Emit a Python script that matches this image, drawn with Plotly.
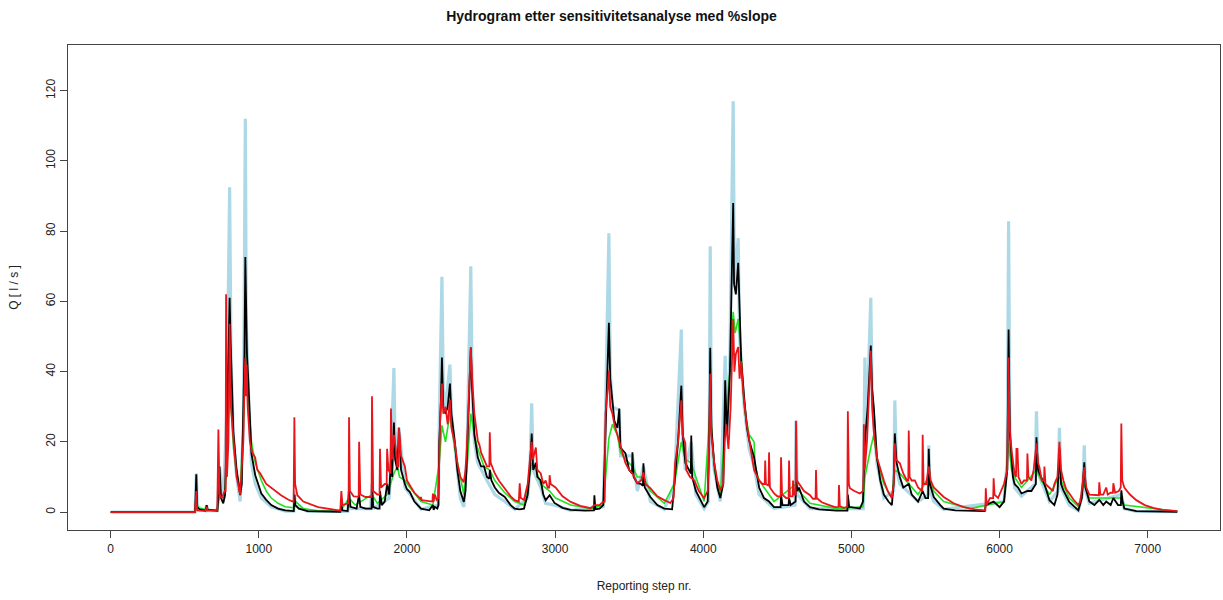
import plotly.graph_objects as go

# Hydrograph points as (reporting step, Q [l/s]) for each simulation run

run_lightblue = [
    (0, 0), (570, 0), (578, 11), (585, 1.5), (640, 0.4), (648, 2), (655, 0.5), (720, 0.4),
    (735, 13), (760, 3), (785, 30), (803, 92.5), (812, 45), (828, 22), (848, 11), (874, 3),
    (896, 25), (909, 112), (915, 55), (929, 35), (950, 14), (976, 8), (1017, 4), (1084, 1.5),
    (1178, 0.3), (1236, 0.3), (1241, 6), (1246, 2), (1330, 0.2), (1600, 0.2), (1609, 6),
    (1618, 1), (1755, 1), (1764, 8), (1772, 1), (1880, 4), (1892, 15), (1912, 41), (1920, 18),
    (1946, 24), (1986, 7), (2020, 5), (2095, 0.8), (2212, 2), (2218, 25), (2236, 67),
    (2245, 35), (2260, 30), (2290, 42), (2300, 28), (2323, 18), (2360, 4), (2384, 1.5),
    (2404, 15), (2431, 70), (2440, 35), (2455, 20), (2478, 14), (2540, 9), (2593, 5),
    (2660, 3), (2727, 0.8), (2815, 4), (2830, 12), (2842, 31), (2852, 12), (2903, 7),
    (2936, 2.5), (2996, 2), (3105, 0.5), (3325, 1.5), (3340, 28), (3363, 79.4), (3372, 40),
    (3387, 30), (3433, 29), (3441, 16), (3522, 16), (3555, 6), (3596, 13), (3643, 3),
    (3737, 0.8), (3805, 8), (3852, 52), (3862, 20), (3879, 12), (3919, 20), (3950, 5),
    (4006, 1), (4035, 3), (4040, 20), (4047, 75.7), (4055, 20), (4074, 12), (4115, 3),
    (4148, 44.5), (4160, 22), (4180, 45), (4202, 117), (4210, 65), (4236, 78), (4245, 50),
    (4276, 30), (4310, 18), (4343, 13), (4377, 5), (4478, 1), (4620, 2), (4626, 26),
    (4635, 5), (4721, 1), (5080, 1), (5091, 44), (5100, 20), (5131, 61), (5140, 32),
    (5172, 14), (5219, 4), (5285, 6), (5293, 31.8), (5305, 12), (5327, 8), (5450, 3),
    (5518, 5), (5522, 19), (5530, 6), (5556, 3), (5623, 0.8), (6030, 3), (6052, 15),
    (6061, 82.8), (6070, 20), (6101, 7), (6148, 4.5), (6240, 8), (6249, 28.7), (6260, 11),
    (6337, 3), (6395, 6), (6404, 24), (6415, 7), (6471, 2), (6532, 0.4), (6560, 5),
    (6572, 19), (6580, 6), (6606, 2.5), (6822, 5), (6842, 1), (6923, 0.2), (7200, 0.1),
]

run_green = [
    (0, 0), (570, 0), (578, 5), (590, 1), (720, 0.5), (735, 5), (770, 4), (790, 20),
    (805, 35), (812, 30), (830, 18), (850, 11), (874, 6), (896, 25), (909, 53), (915, 40),
    (930, 30), (950, 20), (976, 14), (1017, 9), (1050, 6), (1084, 4), (1130, 2.5),
    (1178, 1.5), (1240, 1.2), (1250, 3), (1300, 1), (1400, 0.4), (1550, 0.2), (1609, 4),
    (1650, 2), (1764, 5), (1800, 2.5), (1866, 5), (1912, 11), (1935, 13), (1950, 10),
    (1986, 9), (2020, 7), (2095, 3), (2175, 2), (2218, 14), (2236, 24.7), (2260, 20),
    (2290, 28), (2323, 18), (2360, 10), (2384, 5), (2404, 12), (2431, 28), (2455, 22),
    (2478, 18), (2520, 13), (2559, 12), (2593, 9), (2660, 5.5), (2727, 3), (2790, 2),
    (2842, 14), (2870, 12), (2903, 8), (2963, 6), (3003, 4), (3105, 2), (3240, 1),
    (3325, 2), (3363, 21), (3387, 25), (3420, 22), (3441, 17), (3475, 15), (3522, 13),
    (3555, 10), (3596, 10), (3643, 6), (3737, 2.5), (3805, 8), (3852, 20), (3879, 15),
    (3919, 14), (3950, 10), (4006, 3), (4047, 30), (4074, 12), (4115, 5), (4148, 25),
    (4180, 40), (4202, 57), (4215, 51), (4236, 55), (4256, 45), (4276, 30), (4310, 22),
    (4343, 20), (4350, 13), (4377, 9), (4444, 5), (4478, 3), (4626, 8), (4646, 6),
    (4721, 2.5), (4900, 1), (5078, 1.5), (5091, 10), (5131, 18.4), (5151, 22), (5172, 15),
    (5219, 8), (5273, 4), (5293, 12), (5327, 11), (5387, 8), (5450, 5), (5522, 10),
    (5556, 6), (5623, 3), (5800, 1), (6030, 3), (6061, 19.6), (6081, 12), (6101, 10),
    (6148, 7), (6249, 12), (6269, 10), (6337, 5), (6404, 10), (6471, 4), (6532, 1.5),
    (6572, 8), (6606, 4), (6822, 4), (6842, 2), (7200, 0.2),
]

run_black = [
    (0, 0), (570, 0), (578, 10.8), (584, 1.5), (600, 0.8), (640, 0.4), (648, 2), (655, 0.6),
    (720, 0.4), (727, 4), (735, 13), (745, 4), (760, 2.5), (772, 5), (785, 25), (795, 45),
    (803, 61), (810, 48), (828, 23), (848, 12.8), (874, 4.8), (885, 8), (896, 28), (903, 45),
    (909, 72.6), (914, 55), (920, 45), (929, 37.5), (950, 16.7), (976, 10.5), (1017, 5.3),
    (1050, 3.5), (1084, 2), (1130, 1), (1178, 0.5), (1236, 0.3), (1241, 5), (1246, 2),
    (1270, 1), (1330, 0.3), (1550, 0.1), (1557, 2), (1565, 0.5), (1600, 0.3), (1609, 6),
    (1618, 1.5), (1660, 1), (1677, 5), (1685, 1.5), (1720, 1), (1761, 1), (1764, 8),
    (1772, 1.5), (1800, 1), (1815, 1), (1818, 6), (1830, 2), (1850, 3), (1866, 8),
    (1880, 5), (1892, 15), (1900, 10), (1912, 25.5), (1920, 15), (1935, 12), (1946, 24),
    (1960, 12), (1986, 8), (2000, 6.5), (2020, 5.7), (2050, 3), (2095, 1), (2150, 0.5),
    (2175, 2), (2180, 0.6), (2188, 1.5), (2205, 1), (2212, 2), (2218, 20), (2228, 30),
    (2236, 44), (2245, 30), (2260, 28), (2275, 30), (2290, 36.6), (2300, 28), (2323, 20),
    (2340, 12), (2360, 6), (2384, 2.9), (2395, 6), (2404, 15), (2415, 28), (2431, 46.8),
    (2440, 35), (2455, 22), (2478, 15.6), (2500, 13), (2520, 13), (2540, 10), (2556, 9.5),
    (2559, 12), (2570, 9), (2593, 7), (2620, 5.5), (2660, 4.3), (2700, 2), (2727, 1),
    (2760, 0.8), (2790, 1), (2815, 5), (2830, 12), (2842, 22.4), (2852, 12), (2870, 14),
    (2880, 10), (2903, 9), (2920, 5), (2936, 3.4), (2950, 4), (2963, 4.8), (2996, 2.6),
    (3050, 1.2), (3105, 0.6), (3200, 0.4), (3262, 0.5), (3265, 4.8), (3272, 0.8),
    (3300, 1), (3325, 2), (3340, 25), (3355, 42), (3363, 53.9), (3372, 38), (3387, 32),
    (3400, 26), (3420, 24), (3433, 29.5), (3441, 18.4), (3475, 16.7), (3500, 12),
    (3519, 11), (3522, 17), (3530, 10), (3555, 8.2), (3580, 8), (3593, 7.5), (3596, 13.9),
    (3605, 7), (3643, 4.3), (3690, 2), (3737, 1), (3790, 0.8), (3805, 8), (3830, 20),
    (3852, 36), (3862, 22), (3879, 14), (3900, 12), (3916, 11), (3919, 21.8), (3925, 10),
    (3950, 6), (4006, 1.4), (4030, 3), (4040, 20), (4047, 46.8), (4055, 24), (4074, 14),
    (4095, 7), (4115, 4), (4135, 8), (4148, 37.5), (4160, 22), (4180, 40), (4195, 70),
    (4202, 88), (4208, 65), (4220, 62), (4236, 71), (4245, 55), (4256, 43), (4276, 32.6),
    (4295, 24), (4310, 20.4), (4343, 15.6), (4377, 7), (4410, 4), (4444, 3), (4478, 1.4),
    (4500, 1.4), (4522, 1.4), (4525, 5), (4535, 2), (4576, 2), (4579, 4), (4590, 2),
    (4623, 3), (4626, 10), (4635, 6), (4646, 7), (4680, 3), (4721, 1.4), (4780, 0.8),
    (4900, 0.4), (4973, 0.4), (4976, 5), (4985, 1.5), (5057, 1), (5078, 3), (5091, 20),
    (5110, 30), (5131, 47.4), (5140, 35), (5151, 30), (5172, 15.6), (5195, 9), (5219, 5),
    (5250, 3), (5273, 2), (5285, 8), (5293, 22.4), (5305, 14), (5327, 10), (5350, 7),
    (5387, 8), (5407, 5), (5450, 3), (5481, 6), (5500, 4), (5518, 4), (5522, 18),
    (5530, 8), (5556, 4.3), (5600, 2), (5623, 1), (5700, 0.5), (5900, 0.3), (5907, 2),
    (5960, 3), (6000, 1.4), (6030, 3), (6052, 12), (6061, 52), (6070, 22), (6090, 10),
    (6101, 8), (6125, 7), (6148, 5.3), (6188, 6), (6215, 6), (6245, 8), (6249, 21.3),
    (6260, 12), (6269, 11), (6303, 8), (6337, 3.4), (6370, 2), (6391, 5), (6404, 18),
    (6415, 8), (6431, 6.2), (6471, 2.9), (6532, 0.5), (6555, 4), (6572, 14.2), (6580, 7),
    (6586, 6), (6606, 3), (6640, 2), (6673, 3.5), (6700, 2), (6720, 3), (6750, 2),
    (6768, 4), (6800, 2), (6819, 2), (6822, 6.2), (6830, 3), (6842, 1), (6923, 0.3),
    (7200, 0.1),
]

run_red = [
    (0, 0), (570, 0), (578, 6), (584, 0.5), (640, 0.3), (648, 1.5), (655, 0.4), (720, 0.5),
    (727, 23.5), (735, 5), (750, 4), (770, 6), (776, 6), (779, 62), (785, 10), (795, 20),
    (803, 53.6), (812, 30), (830, 20), (850, 10), (874, 5), (895, 20), (905, 40), (909, 44),
    (912, 33), (918, 42), (925, 30), (940, 20), (955, 17), (975, 15.6), (990, 12),
    (1010, 11), (1050, 8), (1080, 7), (1110, 6.2), (1150, 4.8), (1200, 3.5), (1235, 2.9),
    (1240, 27), (1245, 8), (1260, 4.8), (1300, 3), (1400, 1.4), (1500, 0.8), (1550, 0.4),
    (1557, 6), (1565, 2), (1600, 2.5), (1606, 2.5), (1609, 27), (1615, 6), (1640, 4.5),
    (1674, 4.4), (1677, 20), (1685, 5), (1720, 4.3), (1761, 4.3), (1764, 33), (1772, 6),
    (1800, 5), (1815, 5), (1818, 18), (1825, 7), (1850, 8), (1863, 8), (1866, 18),
    (1875, 12), (1889, 11), (1892, 29.5), (1900, 15), (1912, 22), (1925, 18), (1935, 13),
    (1943, 13), (1946, 24), (1960, 16), (1975, 14), (1986, 13), (2000, 9), (2020, 7.7),
    (2050, 5.5), (2090, 3.8), (2094, 4.3), (2100, 3.4), (2150, 3), (2172, 3), (2175, 5.3),
    (2180, 3), (2188, 5), (2200, 3.5), (2212, 4), (2218, 22), (2225, 28), (2236, 36.6),
    (2245, 28), (2260, 30), (2275, 25), (2290, 32), (2300, 24), (2323, 19.6), (2340, 14),
    (2360, 10), (2384, 8.5), (2395, 12), (2404, 18), (2415, 30), (2431, 47), (2440, 38),
    (2455, 28), (2478, 20.4), (2490, 19), (2500, 17), (2520, 15), (2540, 13), (2556, 13),
    (2559, 22.7), (2565, 14), (2593, 11), (2620, 9), (2660, 6.8), (2700, 4.5), (2727, 3.4),
    (2755, 3), (2761, 8.2), (2768, 4), (2790, 3.5), (2815, 8), (2830, 15), (2842, 20),
    (2850, 15), (2870, 18.4), (2880, 12), (2903, 11), (2920, 8), (2936, 9), (2950, 7),
    (2960, 7), (2963, 10.5), (2970, 8), (3003, 7), (3050, 4.5), (3105, 2.9), (3170, 1.8),
    (3240, 1.1), (3265, 2), (3300, 2), (3325, 3), (3335, 3), (3340, 28), (3355, 35),
    (3363, 40.3), (3372, 30), (3387, 28), (3400, 25), (3420, 22), (3441, 18.4), (3460, 16),
    (3475, 13.9), (3500, 12), (3522, 11), (3555, 8.2), (3580, 9), (3596, 11.3), (3610, 8),
    (3643, 6.8), (3690, 4.5), (3737, 3.4), (3778, 2.6), (3800, 4), (3810, 14), (3830, 20),
    (3852, 31.8), (3860, 22), (3879, 19.6), (3885, 12), (3910, 10), (3940, 9), (3970, 6),
    (4006, 4), (4030, 6), (4040, 20), (4047, 39.4), (4055, 22), (4074, 14), (4095, 9),
    (4115, 6.2), (4135, 8), (4145, 20), (4155, 25), (4170, 18), (4185, 30), (4202, 55),
    (4210, 40), (4220, 45), (4236, 47), (4245, 38), (4256, 43), (4270, 34), (4290, 26),
    (4310, 20.4), (4330, 15), (4343, 12), (4377, 9), (4400, 8), (4415, 8), (4418, 14.7),
    (4423, 8), (4441, 7.5), (4444, 17), (4450, 7), (4478, 5.3), (4500, 4.5), (4522, 4.5),
    (4525, 15.6), (4532, 5), (4560, 4), (4576, 4), (4579, 14.7), (4585, 4.5), (4603, 4.5),
    (4606, 9), (4612, 5), (4623, 5), (4626, 26), (4632, 9), (4646, 8.2), (4680, 6),
    (4721, 4.8), (4740, 3.8), (4758, 3.8), (4761, 12), (4766, 4), (4800, 2.8), (4850, 2),
    (4889, 1.4), (4913, 1.5), (4916, 7.7), (4922, 1.6), (4949, 1.2), (4972, 1.5),
    (4976, 28.7), (4983, 8), (4990, 6.8), (5020, 6), (5057, 5.3), (5080, 6), (5084, 25),
    (5090, 12), (5105, 20), (5120, 35), (5131, 46), (5140, 30), (5151, 23), (5172, 15.6),
    (5195, 12), (5219, 9), (5245, 6), (5273, 4), (5285, 8), (5293, 19.6), (5300, 15),
    (5327, 13.9), (5350, 11), (5375, 9), (5384, 9), (5387, 23.2), (5393, 10), (5407, 9),
    (5428, 9), (5450, 7), (5478, 6), (5481, 22), (5487, 8), (5505, 8), (5522, 13),
    (5535, 9), (5556, 7), (5590, 5.5), (5623, 4.3), (5690, 2.5), (5758, 1.4), (5830, 0.8),
    (5904, 0.5), (5907, 6.8), (5913, 2), (5935, 4), (5957, 4), (5960, 9.6), (5966, 5),
    (5990, 4), (6010, 6), (6030, 8), (6052, 12), (6061, 44), (6067, 25), (6081, 17.6),
    (6101, 11), (6111, 10), (6114, 18), (6121, 18), (6128, 10), (6148, 8), (6165, 9),
    (6185, 9), (6188, 16.7), (6195, 10), (6215, 9), (6230, 12), (6249, 19.6), (6260, 14),
    (6269, 12.8), (6285, 9), (6300, 9), (6303, 13), (6310, 8), (6337, 6.8), (6360, 6),
    (6370, 8), (6391, 10), (6404, 20), (6415, 12), (6431, 9), (6450, 6.5), (6471, 5.3),
    (6500, 3.5), (6532, 2), (6545, 3), (6560, 8), (6572, 12.8), (6580, 9), (6586, 7),
    (6606, 5), (6640, 4.8), (6670, 4.8), (6673, 8.5), (6680, 5), (6700, 5), (6720, 7),
    (6730, 5), (6750, 5.5), (6765, 5.5), (6768, 8.2), (6780, 5.5), (6805, 6), (6818, 7),
    (6822, 25.2), (6828, 9), (6842, 7), (6880, 5), (6923, 3.4), (6980, 2), (7037, 1.2),
    (7100, 0.6), (7200, 0.3),
]

x_ticks = [0, 1000, 2000, 3000, 4000, 5000, 6000, 7000]
y_ticks = [0, 20, 40, 60, 80, 100, 120]

runs = [
    (run_lightblue, "#add8e6", 3.2),
    (run_green, "#22e022", 1.6),
    (run_black, "#000000", 1.8),
    (run_red, "#e8161b", 1.8),
]

fig = go.Figure()
for pts, colour, width in runs:
    steps, q = zip(*pts)
    fig.add_trace(go.Scatter(
        x=list(steps), y=list(q), mode="lines",
        line=dict(color=colour, width=width),
        hoverinfo="skip", showlegend=False,
    ))

font_main = "Liberation Sans Narrow, Arial Narrow, Liberation Sans, Arial, sans-serif"

fig.update_layout(
    width=1223, height=600,
    margin=dict(l=68, r=3, t=45, b=70),
    paper_bgcolor="white", plot_bgcolor="white",
    font=dict(family=font_main, size=12, color="#222222"),
    title=dict(
        text="<b>Hydrogram etter sensitivitetsanalyse med %slope</b>",
        x=0.5, xanchor="center", y=0.973, yanchor="middle",
        font=dict(size=14, color="#111111", family=font_main),
    ),
)

fig.update_xaxes(
    range=[-288, 7488], tickvals=x_ticks, ticktext=[str(v) for v in x_ticks],
    showgrid=False, zeroline=False,
    showline=True, linecolor="#444444", linewidth=1.2, mirror=True,
    ticks="outside", ticklen=7, tickcolor="#444444",
    tickfont=dict(size=12),
    title=dict(text="Reporting step nr.", font=dict(size=12), standoff=27),
)
fig.update_yaxes(
    range=[-5.1, 133], tickvals=y_ticks, ticktext=[str(v) for v in y_ticks],
    showgrid=False, zeroline=False,
    showline=True, linecolor="#444444", linewidth=1.2, mirror=True,
    ticks="outside", ticklen=7, tickcolor="#444444",
    tickangle=-90, tickfont=dict(size=12),
    title=dict(text="Q [ l / s ]", font=dict(size=12), standoff=22),
)

fig.write_html("out.html")
